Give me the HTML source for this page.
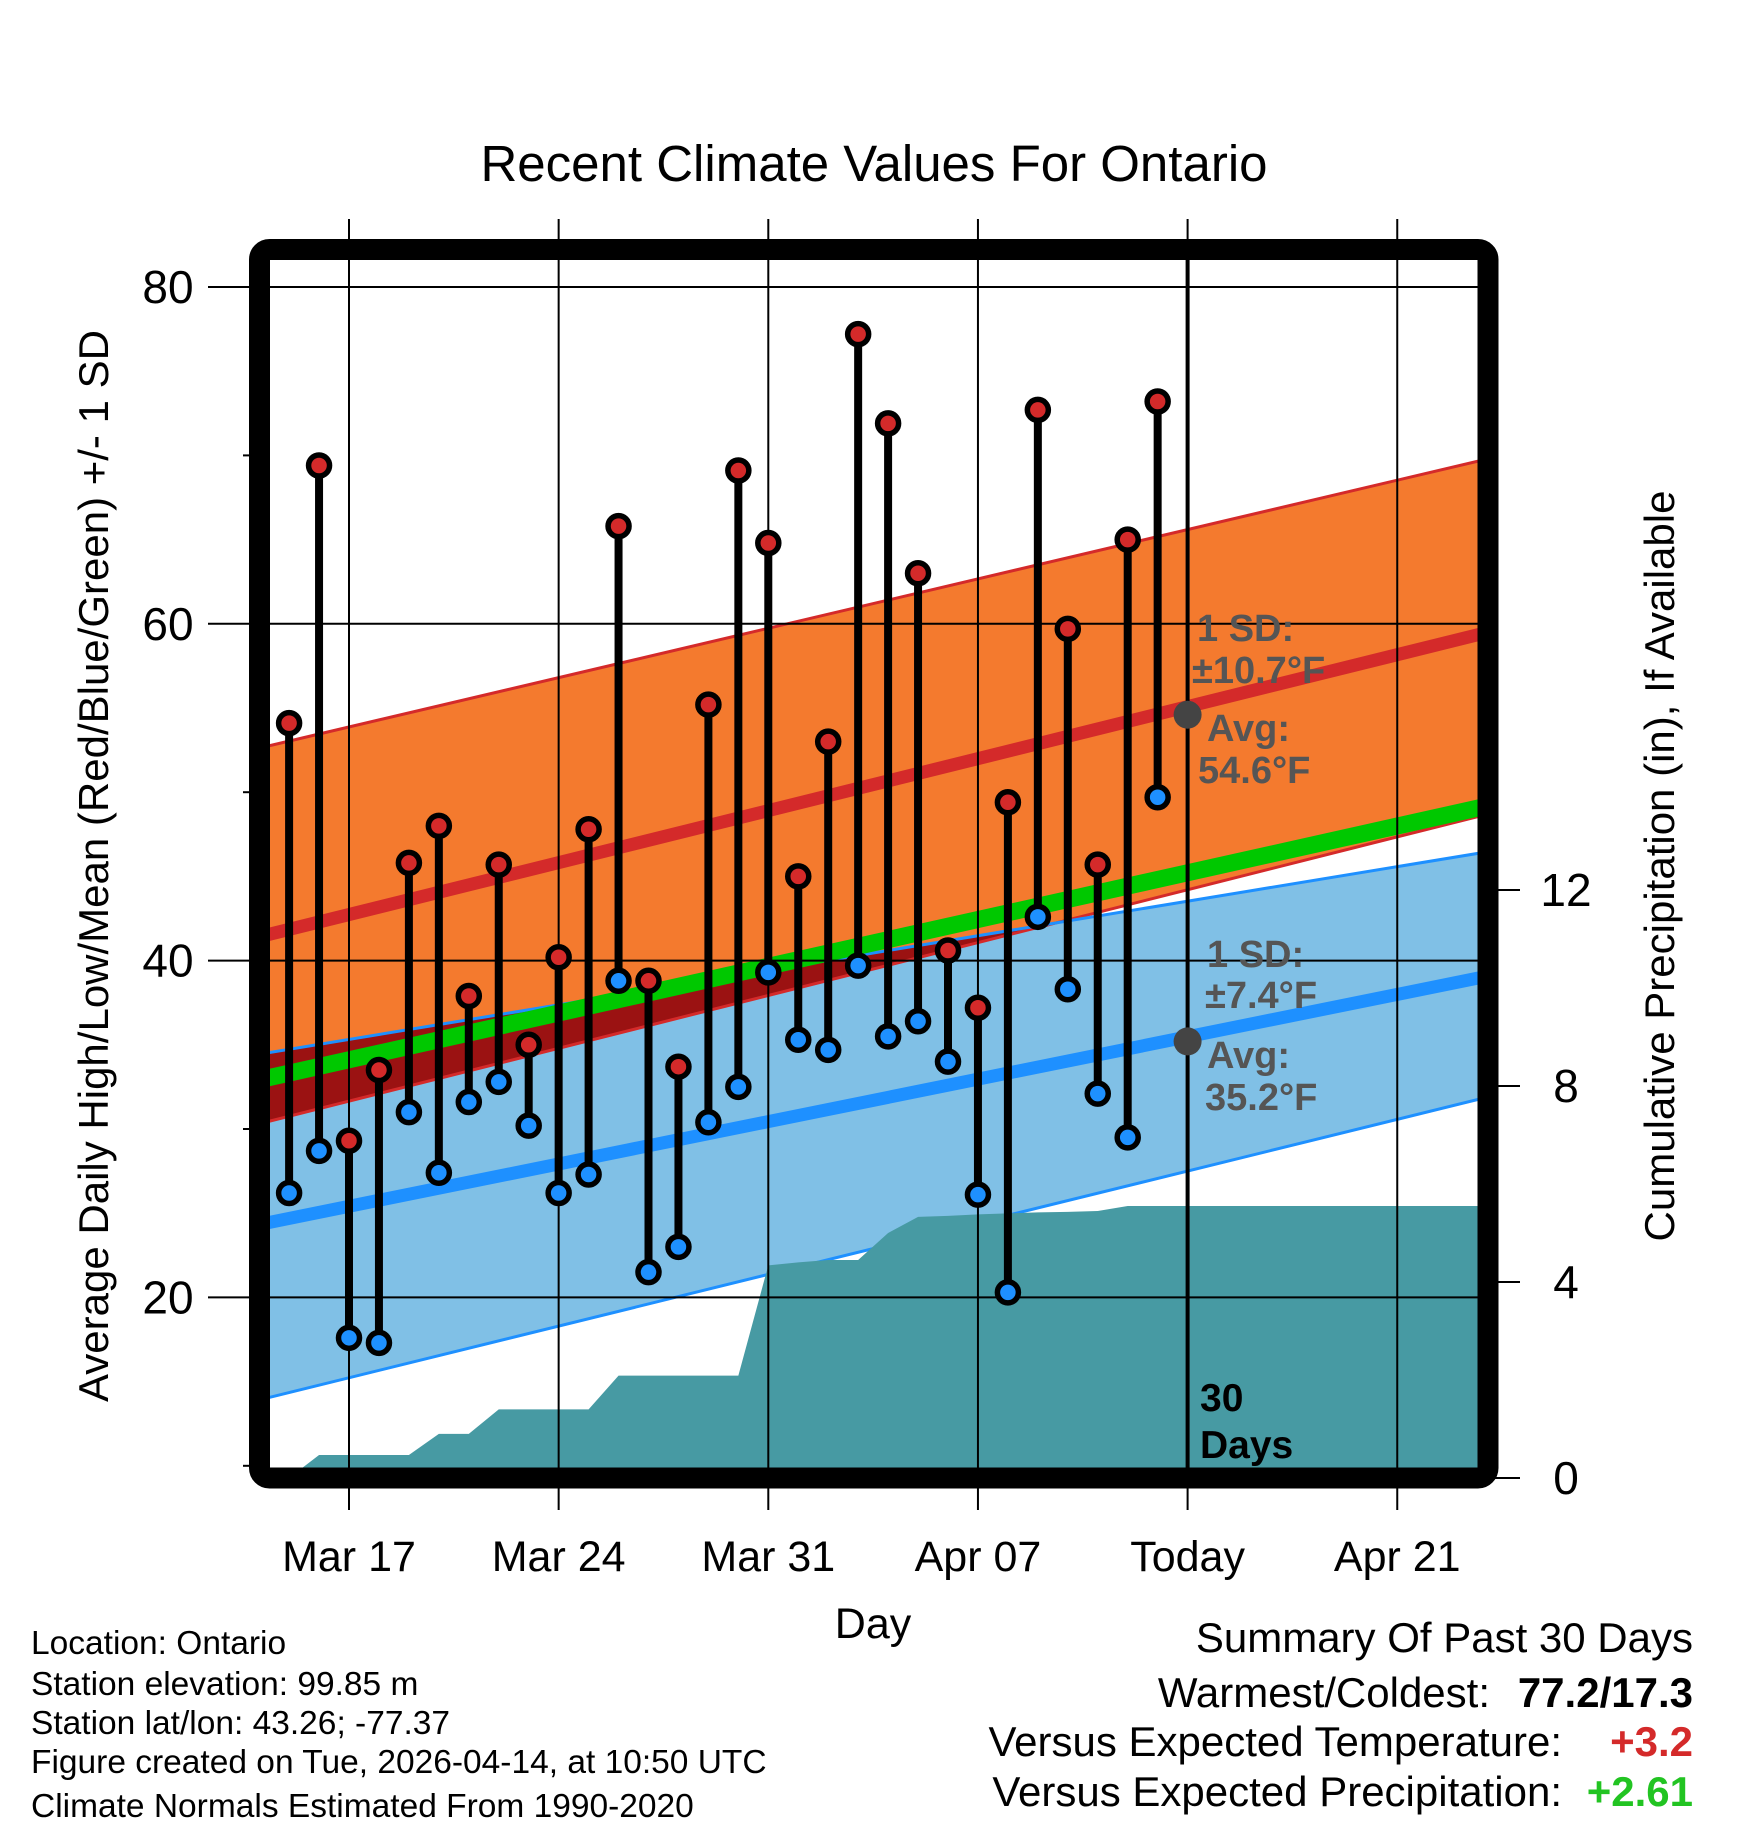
<!DOCTYPE html>
<html><head><meta charset="utf-8"><style>
html,body{margin:0;padding:0;background:#fff}
svg{display:block;font-family:"Liberation Sans",Arial,sans-serif}
</style></head><body>
<svg id="chart" width="1748" height="1828" viewBox="0 0 1748 1828" xmlns="http://www.w3.org/2000/svg">
<defs>
<clipPath id="plotClip"><rect x="269" y="259" width="1210" height="1210"/></clipPath>
<clipPath id="orangeClip"><polygon id="orangeClipPoly"/></clipPath>
</defs>
<text x="874" y="181" font-size="51" text-anchor="middle">Recent Climate Values For Ontario</text>
<g id="plot" clip-path="url(#plotClip)"></g>
<g id="axes"></g>
<g id="marks"></g>
<rect x="259.5" y="249.5" width="1228.5" height="1228.5" rx="10" fill="none" stroke="#000" stroke-width="21"/>
<text transform="translate(108,866) rotate(-90)" font-size="42" text-anchor="middle">Average Daily High/Low/Mean (Red/Blue/Green) +/- 1 SD</text>
<text transform="translate(1674,866) rotate(-90)" font-size="42" text-anchor="middle">Cumulative Precipitation (in), If Available</text>
<text x="873" y="1638" font-size="43" text-anchor="middle">Day</text>
<g font-size="33.5">
<text x="31" y="1654">Location: Ontario</text>
<text x="31" y="1695">Station elevation: 99.85 m</text>
<text x="31" y="1734">Station lat/lon: 43.26; -77.37</text>
<text x="31" y="1773">Figure created on Tue, 2026-04-14, at 10:50 UTC</text>
<text x="31" y="1817">Climate Normals Estimated From 1990-2020</text>
</g>
<g font-size="42">
<text x="1693" y="1652" text-anchor="end">Summary Of Past 30 Days</text>
<text x="1490" y="1707" text-anchor="end">Warmest/Coldest:</text>
<text x="1693" y="1707" text-anchor="end" font-weight="bold">77.2/17.3</text>
<text x="1562" y="1756" text-anchor="end">Versus Expected Temperature:</text>
<text x="1693" y="1756" text-anchor="end" font-weight="bold" fill="#d42a2a">+3.2</text>
<text x="1562" y="1806" text-anchor="end">Versus Expected Precipitation:</text>
<text x="1693" y="1806" text-anchor="end" font-weight="bold" fill="#22c422">+2.61</text>
</g>
</svg>
<script>
const days=[-2,-1,0,1,2,3,4,5,6,7,8,9,10,11,12,13,14,15,16,17,18,19,20,21,22,23,24,25,26,27];
const highs=[54.1,69.4,29.3,33.5,45.8,48.0,37.9,45.7,35.0,40.2,47.8,65.8,38.8,33.7,55.2,69.1,64.8,45.0,53.0,77.2,71.9,63.0,40.6,37.2,49.4,72.7,59.7,45.7,65.0,73.2];
const lows=[26.2,28.7,17.6,17.3,31.0,27.4,31.6,32.8,30.2,26.2,27.3,38.8,21.5,23.0,30.4,32.5,39.3,35.3,34.7,39.7,35.5,36.4,34.0,26.1,20.3,42.6,38.3,32.1,29.5,49.7];
const precip=[0,0.47,0.47,0.47,0.47,0.9,0.9,1.4,1.4,1.4,1.4,2.09,2.09,2.09,2.09,2.09,4.34,4.4,4.45,4.45,5.0,5.33,5.35,5.38,5.4,5.42,5.43,5.45,5.55,5.55];
const bandDays=[-2.8,37.8];
const highAvg=[41.5,59.4];
const highUp=[52.7,69.7];
const highLo=[30.4,48.6];
const lowAvg=[24.4,39.0];
const lowUp=[34.5,46.4];
const lowLo=[14.0,31.8];
const meanAvg=[33.0,49.1];
const yTicks=[20,40,60,80];
const yMinor=[10,30,50,70];
const pTicks=[0,4,8,12];
const xTickDays=[0,7,14,21,28,35];
const xTickLabels=["Mar 17","Mar 24","Mar 31","Apr 07","Today","Apr 21"];

const NS="http://www.w3.org/2000/svg";
const X=d=>349+d*29.95;
const Y=v=>287+(80-v)*16.84;
const YP=p=>1478-p*49.0;
function mk(tag,attrs,parent){const e=document.createElementNS(NS,tag);for(const k in attrs)e.setAttribute(k,attrs[k]);parent.appendChild(e);return e;}
const plot=document.getElementById('plot'),axes=document.getElementById('axes'),marks=document.getElementById('marks');
function bandPts(up,lo){return `${X(bandDays[0])},${Y(up[0])} ${X(bandDays[1])},${Y(up[1])} ${X(bandDays[1])},${Y(lo[1])} ${X(bandDays[0])},${Y(lo[0])}`;}
function line(arr,color,w,name){const e=mk('line',{x1:X(bandDays[0]),y1:Y(arr[0]),x2:X(bandDays[1]),y2:Y(arr[1]),stroke:color,'stroke-width':w},plot);

return e;}
document.getElementById('orangeClipPoly').setAttribute('points',bandPts(highUp,highLo));
let e=mk('polygon',{points:bandPts(highUp,highLo),fill:'#f47a2e'},plot);


e=mk('polygon',{points:bandPts(lowUp,lowLo),fill:'#80c0e6'},plot);


e=mk('polygon',{points:bandPts(lowUp,lowLo),fill:'#9b1212','clip-path':'url(#orangeClip)'},plot);


line(highUp,'#d42a2a',3,'high-sd-upper');
line(highLo,'#d42a2a',3,'high-sd-lower');
line(lowUp,'#1e90ff',3,'low-sd-upper');
line(lowLo,'#1e90ff',3,'low-sd-lower');
line(meanAvg,'#00c800',17,'mean-normal-line');
line(highAvg,'#d42a2a',13,'high-normal-line');
line(lowAvg,'#1e90ff',13,'low-normal-line');
let pts=`${X(days[0])},${YP(0)} `;
days.forEach((d,i)=>{pts+=`${X(d)},${YP(precip[i])} `;});
pts+=`${X(bandDays[1])},${YP(precip[precip.length-1])} ${X(bandDays[1])},${YP(0)}`;
e=mk('polygon',{points:pts,fill:'#479aa3'},plot);


yTicks.forEach(v=>{e=mk('line',{x1:208,y1:Y(v),x2:1478,y2:Y(v),stroke:'#000','stroke-width':2},axes);


e=mk('text',{x:168,y:Y(v)+16,'font-size':46,'text-anchor':'middle'},axes);e.textContent=v;

});
yMinor.forEach(v=>{e=mk('line',{x1:243,y1:Y(v),x2:255,y2:Y(v),stroke:'#000','stroke-width':2},axes);

});
pTicks.forEach(p=>{e=mk('line',{x1:1490,y1:YP(p),x2:1520,y2:YP(p),stroke:'#000','stroke-width':2},axes);


e=mk('text',{x:1566,y:YP(p)+16,'font-size':46,'text-anchor':'middle'},axes);e.textContent=p;

});
xTickDays.forEach((d,i)=>{e=mk('line',{x1:X(d),y1:219,x2:X(d),y2:1510,stroke:'#000','stroke-width':2},axes);


e=mk('text',{x:X(d),y:1571,'font-size':43,'text-anchor':'middle'},axes);e.textContent=xTickLabels[i];

});
e=mk('line',{x1:X(28),y1:252,x2:X(28),y2:1470,stroke:'#000','stroke-width':4},marks);


days.forEach((d,i)=>{
 e=mk('line',{x1:X(d),y1:Y(highs[i]),x2:X(d),y2:Y(lows[i]),stroke:'#000','stroke-width':8},marks);
 
 
});
days.forEach((d,i)=>{
 e=mk('circle',{cx:X(d),cy:Y(highs[i]),r:10.5,fill:'#d42a2a',stroke:'#000','stroke-width':5.5},marks);
 
 
 e=mk('circle',{cx:X(d),cy:Y(lows[i]),r:10.5,fill:'#1e90ff',stroke:'#000','stroke-width':5.5},marks);
 
 
});
[54.6,35.2].forEach(v=>{e=mk('circle',{cx:X(28),cy:Y(v),r:14,fill:'#444'},marks);

});
const ann=[["1 SD:",1197,641],["±10.7°F",1192,683],["Avg:",1207,741],[" 54.6°F",1198,783],["1 SD:",1207,967],["±7.4°F",1205,1008],["Avg:",1207,1068],["35.2°F",1205,1110]];
ann.forEach(a=>{e=mk('text',{x:a[1],y:a[2],'font-size':38,'font-weight':'bold',fill:'#555'},marks);e.textContent=a[0];

});
[["30",1200,1411],["Days",1200,1458]].forEach(a=>{e=mk('text',{x:a[1],y:a[2],'font-size':39,'font-weight':'bold',fill:'#000'},marks);e.textContent=a[0];

});
</script>
</body></html>
